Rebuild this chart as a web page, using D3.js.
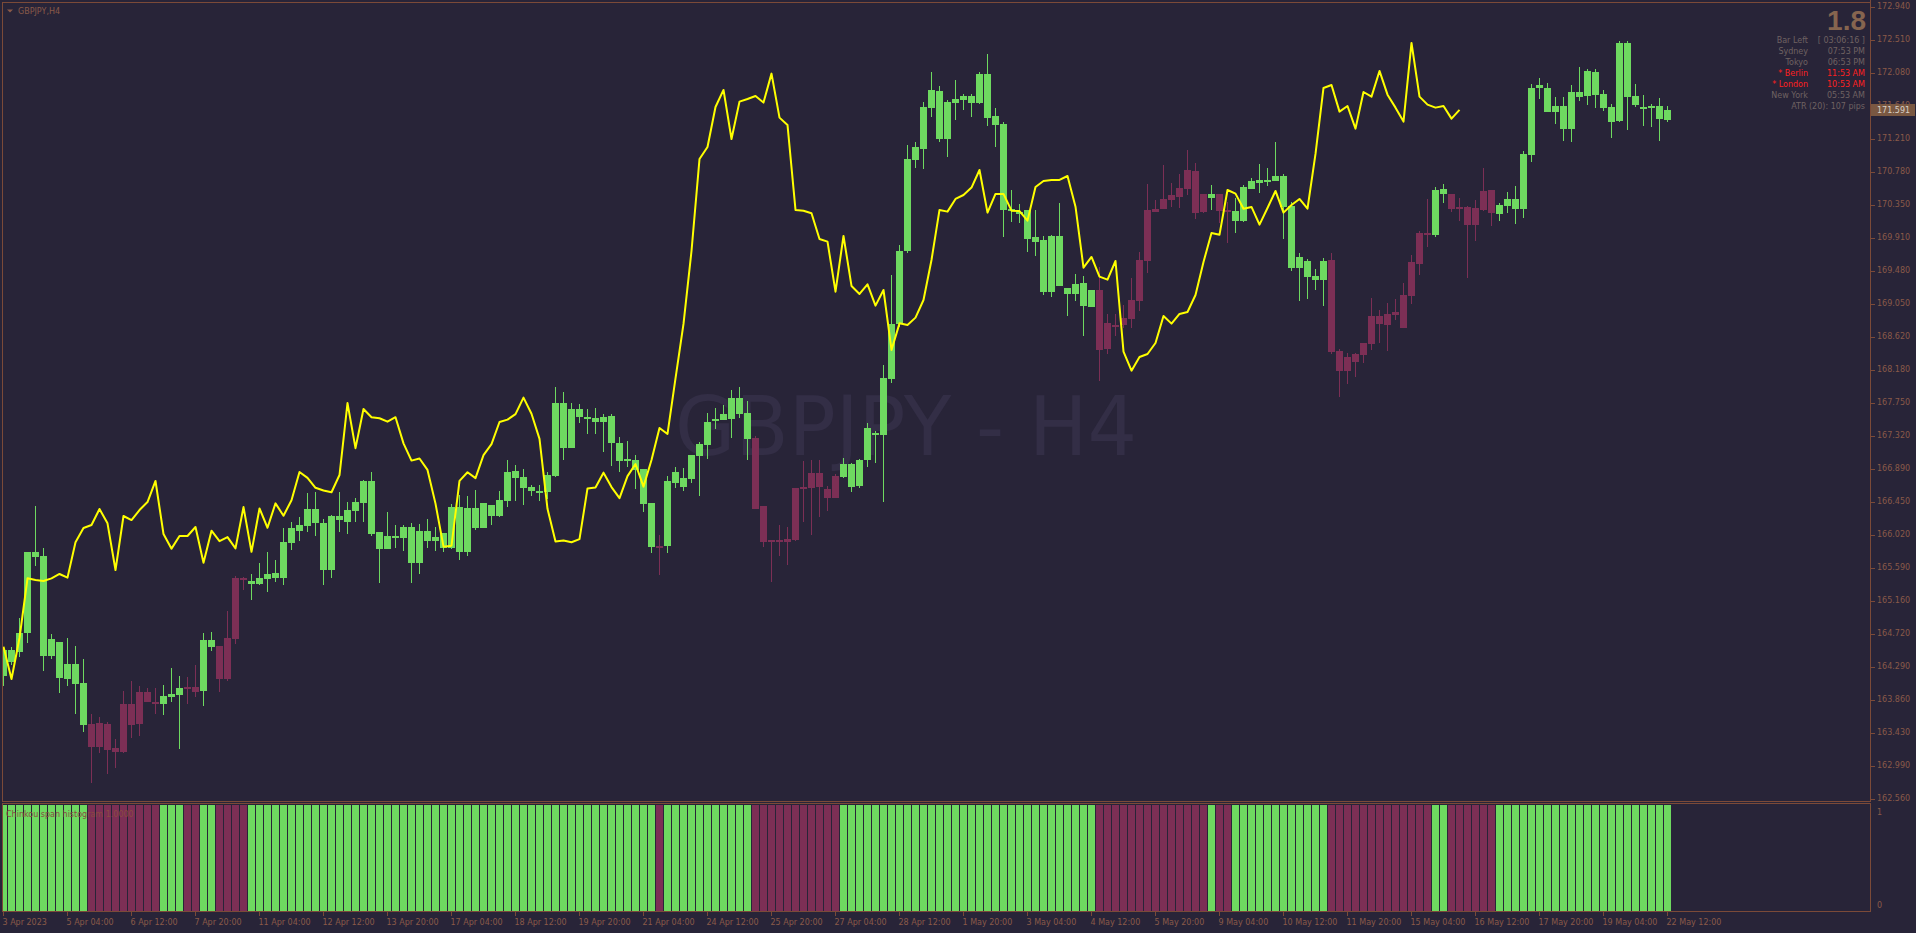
<!DOCTYPE html>
<html>
<head>
<meta charset="utf-8">
<title>GBPJPY,H4</title>
<script src="https://d3js.org/d3.v7.min.js"></script>
<style>
  html, body { margin: 0; padding: 0; background: #282438; overflow: hidden; }
  svg { display: block; font-family: "DejaVu Sans", sans-serif; }
</style>
</head>
<body>
<script>
// GBPJPY H4 bars (oldest first)
var open = [164.176,164.513,164.491,164.731,165.793,165.745,164.438,164.613,164.132,164.329,
  164.076,163.543,163.245,163.543,163.224,163.180,163.805,163.543,163.958,163.831,
  163.809,163.901,163.923,164.006,164.023,163.975,164.644,164.565,164.132,164.657,
  165.452,165.382,165.378,165.447,165.522,165.461,165.919,166.077,166.142,166.361,
  166.177,165.561,166.269,166.195,166.339,166.444,166.728,166.055,165.841,165.985,
  165.985,166.125,165.657,166.074,165.939,166.047,165.844,166.386,165.799,166.368,
  166.115,166.413,166.273,166.467,166.860,166.774,166.643,166.603,166.580,166.792,
  167.749,167.158,167.672,167.564,167.550,167.505,167.577,167.225,166.995,167.009,
  166.882,166.435,165.867,165.880,166.702,166.652,166.756,167.054,167.203,167.546,
  167.532,167.546,167.821,167.618,167.289,166.395,165.934,165.948,165.925,165.957,
  166.630,166.639,166.833,166.621,166.503,166.785,166.951,166.663,167.003,167.357,
  167.331,168.065,168.786,169.742,170.935,171.079,171.621,171.840,171.210,171.687,
  171.722,171.774,171.687,172.067,171.512,171.407,170.290,170.258,170.280,169.926,
  169.887,169.209,169.939,169.257,169.179,169.323,169.013,169.231,168.458,168.751,
  168.773,168.855,169.091,169.616,170.293,170.293,170.411,170.455,170.555,170.791,
  170.258,170.441,170.490,170.280,170.267,170.140,170.555,170.638,170.660,170.664,
  170.725,170.337,169.524,169.611,169.415,169.367,169.624,168.432,168.174,168.292,
  168.384,168.528,168.890,168.777,168.908,168.737,169.157,169.576,169.978,169.956,
  170.555,170.489,170.310,170.319,170.088,170.284,170.542,170.232,170.337,170.424,
  170.297,171.005,171.879,171.879,171.569,171.643,171.346,171.826,171.774,172.088,
  171.800,171.630,171.451,172.469,171.774,171.630,171.621,171.643,171.464];
var high = [164.556,164.547,164.928,165.793,166.400,165.845,164.718,164.613,164.665,164.565,
  164.395,163.674,163.639,163.564,163.346,163.975,164.106,164.041,164.019,164.010,
  164.054,164.272,164.172,164.154,164.316,164.731,164.753,164.565,165.024,165.482,
  165.474,165.509,165.648,165.793,165.692,166.107,166.186,166.251,166.566,166.579,
  166.234,166.278,166.588,166.448,166.505,166.741,166.846,166.055,166.321,166.147,
  166.151,166.173,166.170,166.228,166.119,166.047,166.422,166.548,166.526,166.616,
  166.435,166.413,166.603,167.000,166.932,166.882,166.679,166.670,166.842,167.966,
  167.889,167.745,167.731,167.677,167.686,167.604,167.604,167.302,167.248,167.067,
  166.882,166.444,166.016,166.792,166.909,166.896,167.067,167.235,167.618,167.686,
  167.722,167.925,167.957,167.776,167.311,166.395,165.948,166.151,166.119,166.630,
  166.995,167.009,167.009,166.661,166.819,167.034,166.960,167.012,167.493,167.383,
  168.248,169.428,169.821,171.132,171.171,171.695,172.089,171.905,171.722,171.984,
  171.800,171.800,172.093,172.325,171.612,171.438,170.542,170.354,170.280,170.280,
  169.939,169.952,170.367,169.257,169.437,169.419,169.231,169.537,168.917,168.917,
  169.035,169.393,169.734,170.621,170.411,170.870,170.629,170.752,171.066,170.900,
  170.490,170.607,170.490,170.389,170.433,170.607,170.704,170.883,170.835,171.171,
  170.752,170.380,169.716,169.637,169.506,169.651,169.716,168.458,168.405,168.410,
  168.536,169.126,168.969,169.056,169.113,169.323,169.690,170.005,170.424,170.581,
  170.621,170.489,170.437,170.332,170.411,170.830,170.542,170.376,170.516,170.594,
  171.053,171.931,172.010,171.944,171.761,171.761,171.918,172.154,172.128,172.128,
  171.853,171.669,172.495,172.495,171.931,171.787,171.669,171.748,171.643];
var low = [164.041,164.316,164.425,164.609,165.613,164.242,164.395,163.953,164.045,163.674,
  163.442,162.765,163.167,162.883,162.970,163.158,163.364,163.390,163.835,163.674,
  163.661,163.835,163.215,163.805,163.901,163.778,164.504,163.966,164.111,164.591,
  165.299,165.168,165.365,165.273,165.404,165.365,165.823,165.946,166.063,166.007,
  165.369,165.456,166.063,166.033,166.186,166.186,166.007,165.395,165.841,165.854,
  165.810,165.395,165.504,165.849,165.813,165.799,165.835,165.686,165.745,166.092,
  166.115,166.151,166.250,166.390,166.467,166.408,166.535,166.467,166.490,166.774,
  167.000,167.158,167.492,167.347,167.347,167.113,166.918,166.842,166.905,166.625,
  166.318,165.790,165.497,165.781,166.639,166.593,166.702,166.535,167.022,167.406,
  167.528,167.293,167.550,167.009,166.363,165.858,165.406,165.745,165.632,165.939,
  166.196,166.016,166.250,166.332,166.503,166.763,166.580,166.632,166.916,166.968,
  166.450,168.008,168.751,169.712,170.835,170.817,171.503,171.175,170.979,171.459,
  171.591,171.503,171.669,171.381,171.110,169.930,170.127,170.114,169.734,169.681,
  169.166,169.135,169.284,168.890,169.091,168.633,169.013,168.043,168.392,168.628,
  168.729,168.729,168.960,169.458,170.258,170.293,170.323,170.310,170.476,170.162,
  170.245,170.280,170.114,169.852,169.983,170.127,170.555,170.498,170.599,170.664,
  169.904,169.485,169.091,169.118,169.236,169.026,168.397,167.833,168.004,168.095,
  168.279,168.449,168.541,168.436,168.842,168.737,169.052,169.432,169.799,169.930,
  170.376,170.258,170.140,169.393,169.878,170.271,170.074,170.140,170.245,170.101,
  170.179,170.913,171.739,171.569,171.411,171.189,171.175,171.713,171.660,171.621,
  171.582,171.228,171.438,171.333,171.634,171.385,171.368,171.189,171.438];
var close = [164.513,164.360,164.731,165.793,165.736,164.438,164.657,164.150,164.329,164.067,
  163.530,163.245,163.551,163.202,163.180,163.805,163.530,163.958,163.835,163.809,
  163.910,163.936,164.010,164.032,163.966,164.644,164.556,164.132,164.670,165.452,
  165.430,165.417,165.452,165.509,165.461,165.924,166.112,166.151,166.361,166.173,
  165.561,166.269,166.216,166.347,166.452,166.728,166.033,165.841,166.007,166.007,
  166.125,165.657,166.077,165.939,165.993,165.844,166.386,165.799,166.368,166.115,
  166.435,166.273,166.476,166.846,166.769,166.639,166.603,166.580,166.806,167.749,
  167.158,167.672,167.564,167.550,167.505,167.564,167.221,166.995,167.022,166.873,
  166.431,165.867,165.880,166.729,166.842,166.765,167.067,167.212,167.501,167.532,
  167.604,167.821,167.609,167.280,166.363,165.934,165.948,165.925,165.966,166.630,
  166.643,166.837,166.648,166.503,166.792,166.951,166.654,167.003,167.423,167.344,
  168.074,168.786,169.742,170.948,171.106,171.630,171.853,171.210,171.700,171.735,
  171.774,171.687,172.067,171.490,171.394,170.280,170.270,170.236,169.900,169.865,
  169.209,169.939,169.284,169.179,169.306,169.026,169.231,168.445,168.794,168.773,
  168.869,169.100,169.624,170.280,170.258,170.424,170.476,170.573,170.804,170.245,
  170.490,170.490,170.271,170.265,170.140,170.581,170.660,170.674,170.673,170.725,
  170.323,169.524,169.664,169.406,169.367,169.611,168.423,168.174,168.353,168.392,
  168.536,168.890,168.790,168.917,168.943,169.166,169.598,169.978,169.956,170.542,
  170.494,170.297,170.320,170.088,170.306,170.529,170.245,170.345,170.424,170.297,
  171.014,171.879,171.918,171.569,171.643,171.346,171.826,171.765,172.102,171.791,
  171.621,171.438,172.469,171.765,171.660,171.621,171.643,171.477,171.591];

// Chikou span histogram: 1 = above (green), 0 = below (maroon); candles use the same colour
var histState = ("1111111111" + "1000000000" + "1110011000" + "0111111111" + "1111111111" +
  "1111111111" + "1111111111" + "1111111111" + "1101111111" + "1111000000" +
  "0000011111" + "1111111111" + "1111111111" + "1111111000" + "0000000000" +
  "0100111111" + "1111110000" + "0000000001" + "1000000111" + "1111111111" +
  "111111111").split("").map(Number);

var chikouShift = 26;   // Chikou span = close drawn 26 bars back

var priceTicks = ["172.940","172.510","172.080","171.640","171.210","170.780","170.350",
  "169.910","169.480","169.050","168.620","168.180","167.750","167.320","166.890",
  "166.450","166.020","165.590","165.160","164.720","164.290","163.860","163.430",
  "162.990","162.560"];
var timeLabels = ["3 Apr 2023","5 Apr 04:00","6 Apr 12:00","7 Apr 20:00","11 Apr 04:00",
  "12 Apr 12:00","13 Apr 20:00","17 Apr 04:00","18 Apr 12:00","19 Apr 20:00",
  "21 Apr 04:00","24 Apr 12:00","25 Apr 20:00","27 Apr 04:00","28 Apr 12:00",
  "1 May 20:00","3 May 04:00","4 May 12:00","5 May 20:00","9 May 04:00",
  "10 May 12:00","11 May 20:00","15 May 04:00","16 May 12:00","17 May 20:00",
  "19 May 04:00","22 May 12:00"];
var timeStep = 8;       // one label every 8 bars

var infoLabels = ["Bar Left","Sydney","Tokyo","* Berlin","* London","New York"];
var infoValues = ["[ 03:06:16 ]","07:53 PM","06:53 PM","11:53 AM","10:53 AM","05:53 AM"];
var infoRed = [false,false,false,true,true,false];
var atrText = "ATR (20): 107 pips";
var spreadText = "1.8";

var BG = "#282438", GREEN = "#6ed960", MAROON = "#7c2f55", YELLOW = "#ffff00";
var LINE = "#7b4a38", TXT = "#8a5a48", GREY = "#6f6262", RED = "#ff2020";

var W = 1916, H = 933;
var axisX = 1870.5;
var mainTop = 2.5, mainBottom = 801.5;
var subTop = 803.5, subBottom = 911.5;

var n = close.length;
var x = d3.scaleLinear().domain([0, n - 1]).range([3.5, 3.5 + 8 * (n - 1)]);
var y = d3.scaleLinear().domain([162.56, 172.94]).range([799, 7]);
var hy = d3.scaleLinear().domain([0, 1]).range([911, 805]);

var svg = d3.select("body").append("svg").attr("width", W).attr("height", H);
svg.append("rect").attr("width", W).attr("height", H).attr("fill", BG);

svg.append("clipPath").attr("id", "mainClip").append("rect")
  .attr("x", 3).attr("y", 3).attr("width", axisX - 3.5).attr("height", mainBottom - 3.5);
svg.append("clipPath").attr("id", "subClip").append("rect")
  .attr("x", 3).attr("y", subTop + 0.5).attr("width", axisX - 3.5).attr("height", subBottom - subTop - 1);

var main = svg.append("g").attr("clip-path", "url(#mainClip)");

// watermark
main.append("text")
  .attr("x", 906).attr("y", 455)
  .attr("text-anchor", "middle")
  .attr("font-size", 82)
  .attr("textLength", 462).attr("lengthAdjust", "spacingAndGlyphs")
  .attr("fill", "#332e46")
  .text("GBPJPY - H4");

// candles
var idx = d3.range(n);
var candle = main.selectAll("g.candle").data(idx).enter().append("g")
  .attr("class", "candle")
  .attr("fill", function (i) { return histState[i] ? GREEN : MAROON; });

candle.append("rect")
  .attr("x", function (i) { return x(i) - 0.5; })
  .attr("width", 1)
  .attr("y", function (i) { return Math.round(y(high[i])); })
  .attr("height", function (i) { return Math.max(1, Math.round(y(low[i])) - Math.round(y(high[i]))); });

candle.append("rect")
  .attr("x", function (i) { return x(i) - 3.5; })
  .attr("width", 7)
  .attr("y", function (i) { return Math.round(y(Math.max(open[i], close[i]))); })
  .attr("height", function (i) {
    return Math.max(2, Math.round(y(Math.min(open[i], close[i]))) - Math.round(y(Math.max(open[i], close[i]))));
  });

// chikou span line
var chikou = close.slice(chikouShift);
main.append("path")
  .datum(chikou)
  .attr("fill", "none")
  .attr("stroke", YELLOW)
  .attr("stroke-width", 2)
  .attr("stroke-linejoin", "round")
  .attr("d", d3.line().x(function (d, j) { return x(j); }).y(function (d) { return y(d); }));

// histogram sub-window
svg.append("g").attr("clip-path", "url(#subClip)")
  .selectAll("rect").data(idx).enter().append("rect")
  .attr("x", function (i) { return x(i) - 3.5; })
  .attr("width", 7)
  .attr("y", hy(1))
  .attr("height", hy(0) - hy(1))
  .attr("fill", function (i) { return histState[i] ? GREEN : MAROON; });

svg.append("text").attr("x", 6).attr("y", 817)
  .attr("font-size", 8).attr("fill", "#8a4a40")
  .text("Chinkou span histogram 1.0000");

// frames
var frame = svg.append("g").attr("stroke", LINE).attr("fill", "none").attr("shape-rendering", "crispEdges");
frame.append("path").attr("d",
  "M" + axisX + "," + mainTop + "H2.5V" + mainBottom + "H" + axisX + "V0");
frame.append("path").attr("d",
  "M" + axisX + "," + subTop + "H2.5V" + subBottom + "H" + axisX + "V" + subTop);

// price axis
var pa = svg.append("g").attr("font-size", 8).attr("fill", TXT);
priceTicks.forEach(function (t) {
  var py = Math.round(y(parseFloat(t))) + 0.5;
  pa.append("line").attr("x1", axisX).attr("x2", axisX + 4).attr("y1", py).attr("y2", py)
    .attr("stroke", LINE).attr("shape-rendering", "crispEdges");
  pa.append("text").attr("x", 1877).attr("y", py - 1).attr("dy", "0.35em").text(t);
});

// current price marker
var last = close[n - 1];
svg.append("rect").attr("x", 1871).attr("y", Math.round(y(last)) - 6)
  .attr("width", 44).attr("height", 12).attr("fill", "#7a5842");
svg.append("text").attr("x", 1877).attr("y", Math.round(y(last)))
  .attr("dy", "0.35em").attr("font-size", 8).attr("fill", "#d8d0c8")
  .text(last.toFixed(3));

// sub-window scale
svg.append("text").attr("x", 1877).attr("y", 812).attr("dy", "0.35em")
  .attr("font-size", 8).attr("fill", TXT).text("1");
svg.append("text").attr("x", 1877).attr("y", 905).attr("dy", "0.35em")
  .attr("font-size", 8).attr("fill", TXT).text("0");

// time axis
var ta = svg.append("g").attr("font-size", 8).attr("fill", TXT);
timeLabels.forEach(function (t, k) {
  var tx = x(k * timeStep);
  ta.append("line").attr("x1", tx).attr("x2", tx).attr("y1", subBottom).attr("y2", subBottom + 4)
    .attr("stroke", LINE).attr("shape-rendering", "crispEdges");
  ta.append("text").attr("x", tx - 1).attr("y", 925).text(t);
});

// title
svg.append("path").attr("d", "M7,9.5 L13,9.5 L10,12.5 Z").attr("fill", TXT);
svg.append("text").attr("x", 18).attr("y", 14).attr("font-size", 8).attr("fill", TXT).text("GBPJPY,H4");

// info panel
svg.append("text").attr("x", 1866).attr("y", 30).attr("text-anchor", "end")
  .attr("font-family", "Liberation Sans").attr("font-weight", "bold")
  .attr("font-size", 28).attr("fill", "#86654f").text(spreadText);
infoLabels.forEach(function (l, k) {
  var by = 42.5 + k * 11;
  var col = infoRed[k] ? RED : GREY;
  svg.append("text").attr("x", 1808).attr("y", by).attr("text-anchor", "end")
    .attr("font-size", 8).attr("fill", col).text(l);
  svg.append("text").attr("x", 1865).attr("y", by).attr("text-anchor", "end")
    .attr("font-size", 8).attr("fill", col).text(infoValues[k]);
});
svg.append("text").attr("x", 1865).attr("y", 42.5 + 6 * 11).attr("text-anchor", "end")
  .attr("font-size", 8).attr("fill", GREY).text(atrText);
</script>
</body>
</html>
